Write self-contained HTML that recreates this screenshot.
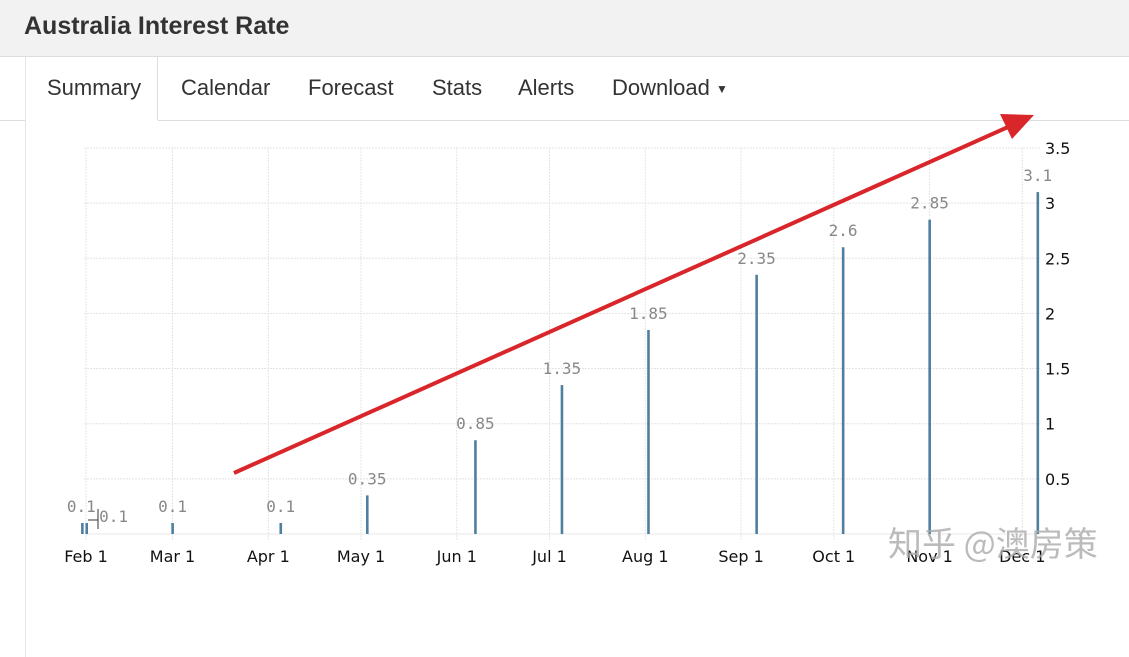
<!DOCTYPE html>
<html><head><meta charset="utf-8"><style>
body{margin:0;width:1129px;height:589px;background:#fff;overflow:hidden;font-family:"Liberation Sans",sans-serif;position:relative}
.hdr{position:absolute;left:0;top:0;width:1129px;height:56px;background:#f2f2f2;border-bottom:1px solid #ddd}
.hdr h1{position:absolute;left:24px;top:12px;margin:0;font-size:25px;font-weight:bold;color:#333}
.tab{position:absolute;top:75px;font-size:22px;color:#333}
</style></head><body>
<div class="hdr"><h1>Australia Interest Rate</h1></div>
<div style="position:absolute;left:0;top:120px;width:25px;border-top:1px solid #ddd"></div>
<div style="position:absolute;left:158px;top:120px;width:971px;border-top:1px solid #ddd"></div>
<div style="position:absolute;left:25px;top:57px;width:132px;height:600px;border-left:1px solid #e6e6e6"></div>
<div style="position:absolute;left:157px;top:57px;height:63px;border-left:1px solid #ddd"></div>
<div class="tab" style="left:47px">Summary</div>
<div class="tab" style="left:181px">Calendar</div>
<div class="tab" style="left:308px">Forecast</div>
<div class="tab" style="left:432px">Stats</div>
<div class="tab" style="left:518px">Alerts</div>
<div class="tab" style="left:612px">Download <span style="font-size:12px;vertical-align:middle">▼</span></div>
<svg id="chart" width="1129" height="589" style="position:absolute;left:0;top:0"></svg>
<script>
const monthLabels=["Feb 1","Mar 1","Apr 1","May 1","Jun 1","Jul 1","Aug 1","Sep 1","Oct 1","Nov 1","Dec 1"];
const monthDays=[0,28,59,89,120,150,181,212,242,273,303];
const barDays=[-1.2,0.2,28,63,91,126,154,182,217,245,273,308];
const barValues=[0.1,0.1,0.1,0.1,0.35,0.85,1.35,1.85,2.35,2.6,2.85,3.1];
const yTicks=[0.5,1,1.5,2,2.5,3,3.5];
const NS="http://www.w3.org/2000/svg";
const svg=document.getElementById('chart');
const x=d=>86+d*3.09;
const y=v=>534-v*110.3;
function mk(tag,attrs,txt){const e=document.createElementNS(NS,tag);for(const k in attrs)e.setAttribute(k,attrs[k]);if(txt!==undefined)e.textContent=txt;svg.appendChild(e);return e;}
yTicks.forEach(v=>{
 const g=mk('line',{x1:84,x2:1040,y1:y(v),y2:y(v),stroke:'#e4e4e4','stroke-dasharray':'2,1'});
 
 
 const t=mk('text',{x:1045,y:y(v)+6,'font-size':16,fill:'#111','font-family':'DejaVu Sans, sans-serif'},String(v));
 
 
});
const base=mk('line',{x1:84,x2:1040,y1:y(0),y2:y(0),stroke:'#e8e8e8'});


monthDays.forEach((d,i)=>{
 const g=mk('line',{x1:x(d),x2:x(d),y1:148,y2:540,stroke:'#e4e4e4','stroke-dasharray':'2,1'});
 
 
 const t=mk('text',{x:x(d),y:562,'font-size':16,fill:'#111','text-anchor':'middle','font-family':'DejaVu Sans, sans-serif'},monthLabels[i]);
 
 
});
barDays.forEach((d,i)=>{
 const b=mk('rect',{x:x(d)-1.2,y:y(barValues[i]),width:2.6,height:y(0)-y(barValues[i]),fill:'#4f7fa0'});
 
 
 let lx=x(d),ly=y(barValues[i])-11;
 if(i===0){lx=x(d)-1;}
 if(i===1){lx=x(d)+27;ly=y(barValues[i])-1;}
 const t=mk('text',{x:lx,y:ly,'font-size':16,fill:'#888','text-anchor':'middle','font-family':'DejaVu Sans Mono, monospace'},String(barValues[i]));
 
 
});
const conn=mk('path',{d:`M${x(0)+12},${y(0.1)-14} v20 M${x(0)+12},${y(0.1)-3} h-10`,stroke:'#333','stroke-width':1,fill:'none'});


const arrow=mk('line',{x1:234,y1:473,x2:1008,y2:127,stroke:'#d9262b','stroke-width':4});


const head=mk('polygon',{points:'1034,115 1000,114 1012,139',fill:'#d9262b'});


const wm=mk('text',{x:888,y:556,'font-size':34,fill:'#aaa','fill-opacity':0.8,'font-family':'Noto Sans CJK SC, sans-serif'},'知乎 @澳房策');


</script>
</body></html>
